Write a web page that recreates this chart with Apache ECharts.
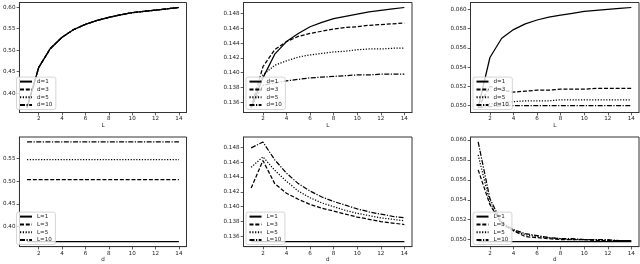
<!DOCTYPE html>
<html>
<head>
<meta charset="utf-8">
<script src="https://cdn.jsdelivr.net/npm/echarts@6/dist/echarts.min.js"></script>
<style>
html,body{margin:0;padding:0;background:#fff;}
#c{width:640px;height:264px;}
</style>
</head>
<body>
<div id="c"></div>
<script>
// ---- data ----
const L_vals = [1,2,3,4,5,6,7,8,9,10,11,12,13,14];
const d_vals = [1,2,3,4,5,6,7,8,9,10,11,12,13,14];
const xTicks = [2,4,6,8,10,12,14];
const dNames = ['d=1','d=3','d=5','d=10'];
const LNames = ['L=1','L=3','L=5','L=10'];

// top-left: value vs L, per d
const A_d1  = [0.367,0.460,0.504,0.530,0.548,0.560,0.569,0.576,0.582,0.587,0.590,0.593,0.596,0.599];
const A_d3  = [0.367,0.460,0.504,0.530,0.548,0.560,0.569,0.576,0.582,0.587,0.590,0.593,0.596,0.599];
const A_d5  = [0.367,0.460,0.504,0.530,0.548,0.560,0.569,0.576,0.582,0.587,0.590,0.593,0.596,0.599];
const A_d10 = [0.367,0.460,0.504,0.530,0.548,0.560,0.569,0.576,0.582,0.587,0.590,0.593,0.596,0.599];
const A_ticks = [0.40,0.45,0.50,0.55,0.60];

// top-middle
const B_d1  = [0.1353,0.1393,0.1425,0.1442,0.1453,0.1462,0.1468,0.1473,0.1476,0.1479,0.1482,0.1484,0.1486,0.1488];
const B_d3  = [0.1353,0.1408,0.1431,0.1442,0.1449,0.1453,0.1456,0.1459,0.1461,0.1462,0.1464,0.1465,0.1466,0.1467];
const B_d5  = [0.1353,0.1397,0.1410,0.1416,0.1421,0.1424,0.1426,0.1428,0.1429,0.1431,0.1432,0.1432,0.1433,0.1433];
const B_d10 = [0.1353,0.1383,0.1386,0.1389,0.1391,0.1393,0.1394,0.1395,0.1396,0.1397,0.1397,0.1398,0.1398,0.1398];
const B_ticks = [0.136,0.138,0.140,0.142,0.144,0.146,0.148];

// top-right
const C_d1  = [0.0498,0.0550,0.0570,0.0579,0.0585,0.0589,0.0592,0.0594,0.0596,0.0598,0.0599,0.0600,0.0601,0.0602];
const C_d3  = [0.0498,0.0520,0.0516,0.0514,0.0515,0.0516,0.0516,0.0517,0.0517,0.0517,0.0518,0.0518,0.0518,0.0518];
const C_d5  = [0.0498,0.0502,0.0503,0.0504,0.0505,0.0505,0.0505,0.0506,0.0506,0.0506,0.0506,0.0506,0.0506,0.0506];
const C_d10 = [0.0498,0.0499,0.0500,0.0500,0.0500,0.0500,0.0500,0.0500,0.0500,0.0500,0.0500,0.0500,0.0500,0.0500];
const C_ticks = [0.050,0.052,0.054,0.056,0.058,0.060];

// bottom-left: value vs d, per L
const D_L1  = [0.367,0.367,0.367,0.367,0.367,0.367,0.367,0.367,0.367,0.367,0.367,0.367,0.367,0.367];
const D_L3  = [0.504,0.504,0.504,0.504,0.504,0.504,0.504,0.504,0.504,0.504,0.504,0.504,0.504,0.504];
const D_L5  = [0.548,0.548,0.548,0.548,0.548,0.548,0.548,0.548,0.548,0.548,0.548,0.548,0.548,0.548];
const D_L10 = [0.587,0.587,0.587,0.587,0.587,0.587,0.587,0.587,0.587,0.587,0.587,0.587,0.587,0.587];
const D_ticks = [0.40,0.45,0.50,0.55];

// bottom-middle
const E_L1  = [0.1353,0.1353,0.1353,0.1353,0.1353,0.1353,0.1353,0.1353,0.1353,0.1353,0.1353,0.1353,0.1353,0.1353];
const E_L3  = [0.1425,0.1462,0.1431,0.1418,0.1410,0.1403,0.1398,0.1394,0.1390,0.1386,0.1383,0.1380,0.1378,0.1376];
const E_L5  = [0.1453,0.1467,0.1449,0.1434,0.1421,0.1412,0.1405,0.1400,0.1395,0.1391,0.1388,0.1385,0.1383,0.1381];
const E_L10 = [0.1479,0.1487,0.1463,0.1445,0.1431,0.1421,0.1413,0.1407,0.1402,0.1397,0.1393,0.1390,0.1387,0.1385];
const E_ticks = [0.136,0.138,0.140,0.142,0.144,0.146,0.148];

// bottom-right
const F_L1  = [0.0498,0.0498,0.0498,0.0498,0.0498,0.0498,0.0498,0.0498,0.0498,0.0498,0.0498,0.0498,0.0498,0.0498];
const F_L3  = [0.0570,0.0535,0.0516,0.0509,0.0503,0.0502,0.0501,0.0500,0.0500,0.0500,0.0499,0.0499,0.0499,0.0499];
const F_L5  = [0.0585,0.0537,0.0515,0.0509,0.0505,0.0503,0.0502,0.0501,0.0500,0.0500,0.0500,0.0499,0.0499,0.0499];
const F_L10 = [0.0598,0.0541,0.0517,0.0510,0.0506,0.0504,0.0502,0.0501,0.0501,0.0500,0.0500,0.0500,0.0499,0.0499];
const F_ticks = [0.050,0.052,0.054,0.056,0.058,0.060];

// ---- layout / styles ----
const FONT = 'DejaVu Sans';
const FS = 5.6;
const INK = '#1a1a1a';
const FRAME = '#333';
const dashTypes = ['solid',[4,1.8],[1.2,1.6],[5,1.5,1.2,1.5]];

const panels = [
  {x: L_vals, series: [A_d1,A_d3,A_d5,A_d10], names: dNames, ticks: A_ticks, dec: 2, xname: 'L', left: 14,    top: 2.5, w: 172.5, h: 110},
  {x: L_vals, series: [B_d1,B_d3,B_d5,B_d10], names: dNames, ticks: B_ticks, dec: 3, xname: 'L', left: 243.5, top: 2.5, w: 168.5, h: 110},
  {x: L_vals, series: [C_d1,C_d3,C_d5,C_d10], names: dNames, ticks: C_ticks, dec: 3, xname: 'L', left: 470.5, top: 2.5, w: 168.5, h: 110},
  {x: d_vals, series: [D_L1,D_L3,D_L5,D_L10], names: LNames, ticks: D_ticks, dec: 2, xname: 'd', left: 14,    top: 137, w: 172.5, h: 110.5},
  {x: d_vals, series: [E_L1,E_L3,E_L5,E_L10], names: LNames, ticks: E_ticks, dec: 3, xname: 'd', left: 243.5, top: 137, w: 168.5, h: 110.5},
  {x: d_vals, series: [F_L1,F_L3,F_L5,F_L10], names: LNames, ticks: F_ticks, dec: 3, xname: 'd', left: 470.5, top: 137, w: 168.5, h: 110.5}
];

const grid = [], xAxis = [], yAxis = [], series = [], legend = [];
panels.forEach((p, i) => {
  grid.push({left: p.left, top: p.top, width: p.w, height: p.h, show: true,
    borderColor: FRAME, borderWidth: 1, backgroundColor: '#fff', containLabel: false});
  const xs = p.x;
  const xmin = Math.min(...xs), xmax = Math.max(...xs), xr = xmax - xmin;
  const allY = [].concat(...p.series);
  const ymin = Math.min(...allY), ymax = Math.max(...allY), yr = ymax - ymin;
  const common = {
    axisLine: {show: true, lineStyle: {color: FRAME, width: 1}},
    axisTick: {show: true, length: 2.8, lineStyle: {color: FRAME, width: 0.8}},
    splitLine: {show: false},
    axisLabel: {color: INK, fontSize: FS, fontFamily: FONT}
  };
  xAxis.push({type: 'value', gridIndex: i, min: xmin - 0.05*xr, max: xmax + 0.05*xr,
    axisLine: common.axisLine, splitLine: common.splitLine,
    axisTick: Object.assign({customValues: xTicks}, common.axisTick),
    axisLabel: Object.assign({customValues: xTicks, margin: 3.5, formatter: v => String(v)}, common.axisLabel),
    name: p.xname, nameLocation: 'middle', nameGap: 9,
    nameTextStyle: {color: INK, fontSize: FS, fontFamily: FONT}
  });
  yAxis.push({type: 'value', gridIndex: i, min: ymin - 0.05*yr, max: ymax + 0.05*yr,
    axisLine: common.axisLine, splitLine: common.splitLine,
    axisTick: Object.assign({customValues: p.ticks}, common.axisTick),
    axisLabel: Object.assign({customValues: p.ticks, margin: 4, formatter: v => v.toFixed(p.dec)}, common.axisLabel)
  });
  p.series.forEach((vals, k) => {
    series.push({
      type: 'line', name: p.names[k], xAxisIndex: i, yAxisIndex: i,
      data: xs.map((x, j) => [x, vals[j]]),
      symbol: 'none', animation: false, silent: true,
      lineStyle: {color: '#000', width: 1.25, type: dashTypes[k]},
      itemStyle: {color: '#000'}
    });
  });
  legend.push({
    data: p.names, orient: 'vertical',
    left: p.left + 2.5, bottom: 264 - (p.top + p.h) + 3,
    itemWidth: 12, itemHeight: 6, itemGap: 1.8,
    padding: [1.5, 3.5, 1.5, 2.5],
    backgroundColor: 'rgba(255,255,255,0.8)', borderColor: '#cccccc', borderWidth: 0.8, borderRadius: 2,
    itemStyle: {opacity: 0},
    textStyle: {color: INK, fontSize: FS, fontFamily: FONT, lineHeight: 6},
    selectedMode: false
  });
});

const chart = echarts.init(document.getElementById('c'), null, {renderer: 'canvas'});
chart.setOption({animation: false, backgroundColor: '#fff', grid, xAxis, yAxis, series, legend});
</script>
</body>
</html>
